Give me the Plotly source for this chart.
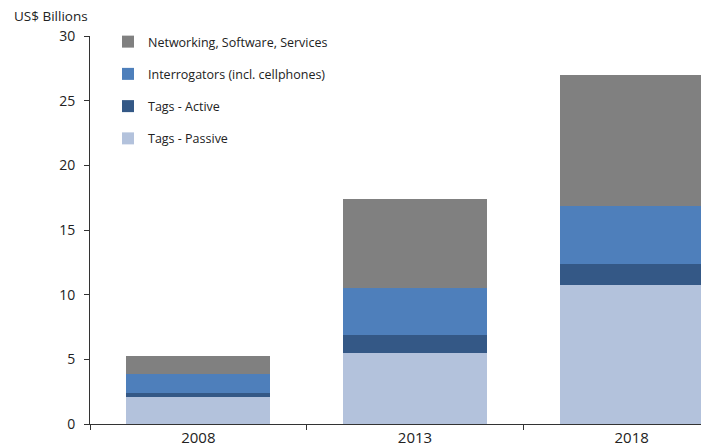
import plotly.graph_objects as go

# Market size by segment, US$ billions
years = ["2008", "2013", "2018"]
tags_passive = [2.11, 5.48, 10.77]
tags_active = [0.26, 1.37, 1.62]
interrogators = [1.50, 3.69, 4.45]
networking = [1.42, 6.88, 10.16]

# (name, values, colour, legend position from top)
series = [
    ("Tags - Passive", tags_passive, "#B3C2DC", 4),
    ("Tags - Active", tags_active, "#345886", 3),
    ("Interrogators (incl. cellphones)", interrogators, "#4E7FBB", 2),
    ("Networking, Software, Services", networking, "#808080", 1),
]

y_ticks = [0, 5, 10, 15, 20, 25, 30]

fig = go.Figure()
for i, (name, vals, color, rank) in enumerate(series):
    fig.add_trace(go.Bar(
        x=years, y=vals, name=name,
        marker=dict(color=color, line=dict(width=0)),
        width=0.665, legendgroup=f"g{i}", legendrank=rank,
    ))

W, H = 701, 448
L, R, T, B = 90, 0, 36, 24
pw = W - L - R
ph = H - T - B

fig.update_layout(
    width=W, height=H,
    barmode="stack",
    bargap=0,
    paper_bgcolor="white", plot_bgcolor="white",
    margin=dict(l=L, r=R, t=T, b=B, pad=0),
    font=dict(family="Open Sans", color="#222222"),
    showlegend=True,
    legend=dict(
        x=(108 - L) / pw, y=1 + 9 / ph, xanchor="left", yanchor="top",
        traceorder="grouped", tracegroupgap=13,
        font=dict(size=12.5, color="#222222"),
        bgcolor="rgba(0,0,0,0)",
    ),
    xaxis=dict(
        type="category", range=[-0.5, 2.32],
        showline=True, linecolor="#333333", linewidth=1,
        ticks="outside", ticklen=5, tickcolor="#333333",
        tickson="boundaries", showgrid=False, zeroline=False,
        tickfont=dict(size=15, color="#222222"),
        fixedrange=True,
    ),
    yaxis=dict(
        range=[0, 30], tickvals=y_ticks, ticktext=[str(v) for v in y_ticks],
        showline=True, linecolor="#333333", linewidth=1,
        ticks="outside", ticklen=5, tickcolor="#333333",
        ticklabelstandoff=6,
        showgrid=False, zeroline=False,
        tickfont=dict(size=14, color="#222222"),
        fixedrange=True,
    ),
    annotations=[dict(
        text="US$ Billions", xref="paper", yref="paper",
        x=(12 - L) / pw, y=1 + (36 - 16) / ph,
        xanchor="left", yanchor="middle", showarrow=False,
        font=dict(size=13.5, color="#222222"),
    )],
)

fig.write_html("out.html")
